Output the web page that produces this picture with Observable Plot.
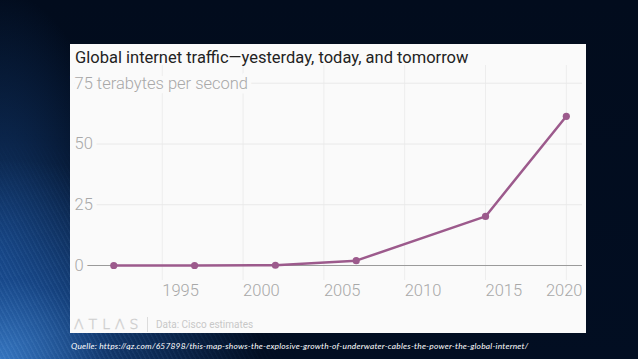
<!DOCTYPE html>
<html>
<head>
<meta charset="utf-8">
<script src="https://cdn.jsdelivr.net/npm/d3@7"></script>
<script src="https://cdn.jsdelivr.net/npm/@observablehq/plot@0.6"></script>
<style>
  html, body { margin: 0; padding: 0; }
  body {
    width: 638px; height: 359px; overflow: hidden; position: relative;
    background:
      radial-gradient(ellipse 260px 200px at 0% 100%, rgba(60,130,210,0.85) 0%, rgba(30,90,170,0.55) 40%, rgba(4,20,45,0) 100%),
      radial-gradient(ellipse 120px 260px at 0% 70%, rgba(30,90,170,0.55) 0%, rgba(4,20,45,0) 100%),
      linear-gradient(180deg, #020c1d 0%, #020e22 100%);
  }
  #streaks {
    position: absolute; left: 0; top: 0; width: 638px; height: 359px;
    background: repeating-linear-gradient(62deg, rgba(150,200,255,0.10) 0px, rgba(150,200,255,0.10) 1px, rgba(0,0,0,0) 2px, rgba(0,0,0,0) 4px);
    -webkit-mask-image: radial-gradient(ellipse 300px 230px at 0% 100%, #000 0%, rgba(0,0,0,0.6) 50%, rgba(0,0,0,0) 100%);
    mask-image: radial-gradient(ellipse 300px 230px at 0% 100%, #000 0%, rgba(0,0,0,0.6) 50%, rgba(0,0,0,0) 100%);
  }
  #card {
    position: absolute; left: 70px; top: 44px; width: 516px; height: 289px;
    background: #fafafa;
  }
  #card svg { position: absolute; left: 0; top: 0; }
  #title {
    position: absolute; left: 5px; top: 6px; white-space: nowrap;
    font-family: Roboto, sans-serif; font-size: 16.5px; line-height: 16px; color: #222;
  }
  #logo {
    position: absolute; left: 4px; top: 272px; white-space: nowrap;
    font-family: "DejaVu Sans", sans-serif; font-weight: 200; font-size: 14px; line-height: 16px;
    letter-spacing: 5px; color: transparent; -webkit-text-stroke: 0.6px #cfcfcf;
  }
  #sep {
    position: absolute; left: 77px; top: 273px; width: 1px; height: 15px; background: #dcdcdc;
  }
  #source {
    position: absolute; left: 86px; top: 275px; white-space: nowrap;
    font-family: Roboto, sans-serif; font-size: 10px; line-height: 12px; color: #c8c8c8;
  }
  #caption {
    position: absolute; left: 71px; top: 341px; white-space: nowrap;
    font-family: Lato, sans-serif; font-style: italic; font-weight: 400; font-size: 8.4px; line-height: 11px;
    letter-spacing: 0.22px; color: #ffffff;
  }
</style>
</head>
<body>
<div id="streaks"></div>
<div id="card">
  <div id="chart"></div>
  <div id="title">Global internet traffic—yesterday, today, and tomorrow</div>
  <div id="logo">ΛTLΛS</div>
  <div id="sep"></div>
  <div id="source">Data: Cisco estimates</div>
</div>
<div id="caption">Quelle: https://qz.com/657898/this-map-shows-the-explosive-growth-of-underwater-cables-the-power-the-global-internet/</div>
<script>
// Data (terabytes per second)
const years = [1992, 1997, 2002, 2007, 2015, 2020];
const traffic = [0, 0, 0.1, 2, 20.2, 61.4];

// Tick values and labels
const yTicks = [0, 25, 50, 75];
const yTickLabels = ["0", "25", "50", "75 terabytes per second"];
const xTicks = [1995, 2000, 2005, 2010, 2015, 2020];
const xTickLabels = ["1995", "2000", "2005", "2010", "2015", "2020"];

const data = years.map((year, i) => ({year, value: traffic[i]}));
const lineColor = "#9c5a8c";
const labelColor = "#a8a8a8";

const chart = Plot.plot({
  width: 516,
  height: 289,
  marginTop: 21,
  marginBottom: 53,
  marginLeft: 4,
  marginRight: 4,
  x: {domain: [1989.57, 2021.0], axis: null},
  y: {domain: [-6.17, 82.3], axis: null},
  style: {background: "transparent", fontFamily: "Roboto, sans-serif", overflow: "visible"},
  marks: [
    Plot.ruleX(xTicks, {x: d => d, stroke: "#ededed", strokeWidth: 1}),
    Plot.ruleY(yTicks.filter(d => d !== 0), {y: d => d, stroke: "#e9e9e9", strokeWidth: 1}),
    Plot.ruleY([0], {y: d => d, stroke: "#9a9a9a", strokeWidth: 1}),
    Plot.text(yTicks, {
      y: d => d,
      text: (d, i) => yTickLabels[i],
      frameAnchor: "left",
      textAnchor: "start",
      fill: labelColor,
      stroke: "#fafafa",
      strokeWidth: 9,
      paintOrder: "stroke",
      fontSize: 16.5,
      fontWeight: 300
    }),
    Plot.line(data, {x: "year", y: "value", stroke: lineColor, strokeWidth: 2.5}),
    Plot.dot(data, {x: "year", y: "value", r: 3.6, fill: lineColor}),
    Plot.text(xTicks.slice(0, -1), {
      x: d => d,
      text: (d, i) => xTickLabels[i],
      frameAnchor: "bottom",
      dy: 15,
      textAnchor: "start",
      fill: labelColor,
      fontSize: 16.5,
      fontWeight: 300
    }),
    Plot.text([xTickLabels[xTickLabels.length - 1]], {
      text: d => d,
      frameAnchor: "bottom-right",
      dy: 15,
      textAnchor: "end",
      fill: labelColor,
      fontSize: 16.5,
      fontWeight: 300
    })
  ]
});
document.getElementById("chart").appendChild(chart);
</script>
</body>
</html>
